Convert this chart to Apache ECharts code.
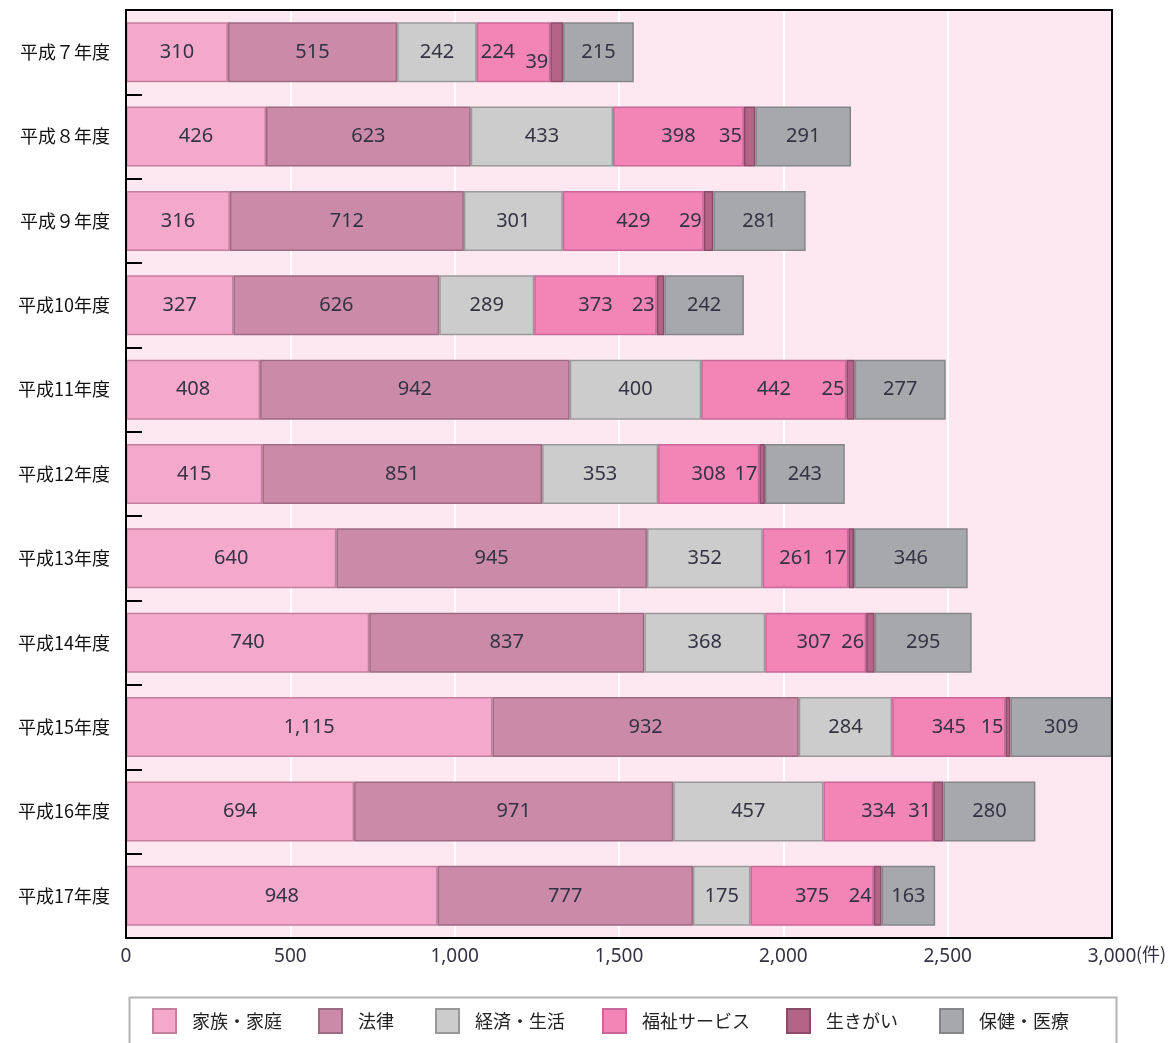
<!DOCTYPE html>
<html><head><meta charset="utf-8">
<script src="https://cdn.jsdelivr.net/npm/echarts@6/dist/echarts.min.js"></script>
<style>html,body{margin:0;padding:0;background:#fff}#c{width:1172px;height:1043px}</style>
</head><body><div id="c"></div>
<script>
const categories = ['平成７年度','平成８年度','平成９年度','平成10年度','平成11年度','平成12年度','平成13年度','平成14年度','平成15年度','平成16年度','平成17年度'];
const seriesNames = ['家族・家庭','法律','経済・生活','福祉サービス','生きがい','保健・医療'];
const family  = [310,426,316,327,408,415,640,740,1115,694,948];
const law     = [515,623,712,626,942,851,945,837,932,971,777];
const economy = [242,433,301,289,400,353,352,368,284,457,175];
const welfare = [224,398,429,373,442,308,261,307,345,334,375];
const ikigai  = [39,35,29,23,25,17,17,26,15,31,24];
const health  = [215,291,281,242,277,243,346,295,309,280,163];
const xTicks = [0,500,1000,1500,2000,2500,3000];

const values = [family, law, economy, welfare, ikigai, health];
const colors = ['#f4a9cc','#cb8ba8','#cccccc','#f285b6','#b36487','#a7a8ab'];
const borders = ['#c47f9e','#9c6a82','#999999','#c8679a','#8a4a68','#858688'];
const legendLeft = [152,318,435,602,786,939];

const fmt = v => v.toLocaleString('en-US');
const numFont = 'Noto Sans';

const series = values.map((arr, si) => {
  const s = {
    name: seriesNames[si], type: 'bar', stack: 'total', barWidth: 60,
    itemStyle: {color: colors[si], borderColor: borders[si], borderWidth: 1.5},
    label: {show: true, position: 'inside', color: '#333344', fontSize: 20, fontFamily: numFont,
      formatter: p => fmt(p.value)},
    emphasis: {disabled: true},
    data: arr.map(v => ({value: v}))
  };
  if (si === 4) {
    s.label.position = 'left'; s.label.distance = 2;
    s.data[0].label = {offset: [0, 10]};
  }
  if (si === 3) {
    s.data[0].label = {position: 'insideLeft', distance: 4};
    s.data[6].label = {offset: [-9, 0]};
    s.data[7].label = {offset: [-2, 0]};
  }
  return s;
});

const chart = echarts.init(document.getElementById('c'), null, {renderer: 'canvas'});
chart.setOption({
  animation: false,
  grid: {left: 126, right: 60, top: 10, bottom: 105, show: true, backgroundColor: '#fde8f1', borderColor: '#000', borderWidth: 0},
  xAxis: {type: 'value', min: 0, max: 3000, interval: 500,
    axisLine: {show: false}, axisTick: {show: false},
    splitLine: {show: true, lineStyle: {color: '#ffffff', width: 2}},
    axisLabel: {color: '#333344', fontSize: 19, fontFamily: numFont, margin: 9,
      formatter: v => xTicks.indexOf(v) >= 0 ? fmt(v) : ''}},
  yAxis: {type: 'category', data: categories, inverse: true,
    axisLine: {show: true, lineStyle: {color: '#000', width: 2}},
    axisTick: {show: true, inside: true, length: 16, lineStyle: {color: '#000', width: 2}},
    axisLabel: {color: '#111', fontSize: 18, fontFamily: 'Noto Sans CJK JP', margin: 16}},
  legend: seriesNames.map((n, i) => ({
    data: [n], left: legendLeft[i], top: 1008, padding: 0,
    itemWidth: 23, itemHeight: 24, icon: 'rect',
    textStyle: {color: '#222', fontSize: 18, fontFamily: 'Noto Sans CJK JP', padding: [0, 0, 0, 11]},
    selectedMode: false
  })),
  graphic: [
    {type: 'rect', z: 100, silent: true, shape: {x: 126, y: 10, width: 986, height: 928}, style: {fill: 'none', stroke: '#000', lineWidth: 2}},
    {type: 'rect', left: 127, top: 995, shape: {width: 987, height: 70}, style: {fill: 'none', stroke: '#b4b4b4', lineWidth: 2}, silent: true},
    {type: 'text', left: 1136, top: 945, style: {text: '(件)', fill: '#333344', font: '18px "Noto Sans CJK JP"'}}
  ],
  series: series
});
</script></body></html>
